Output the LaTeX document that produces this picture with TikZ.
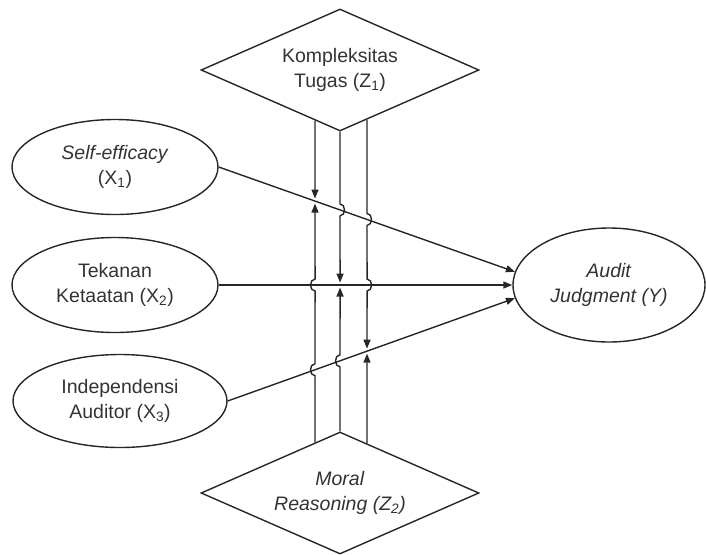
\documentclass[tikz,border=0pt]{standalone}
\usepackage{fontspec}
\setmainfont{Liberation Sans}
\usetikzlibrary{shapes.geometric,arrows.meta,calc}
\tikzset{
  var/.style={ellipse, draw=black!85, line width=1.4pt, minimum width=206pt, minimum height=95pt, inner sep=0pt, align=center},
  mod/.style={diamond, aspect=2.3, draw=black!85, line width=1.4pt, minimum width=278pt, minimum height=122pt, inner sep=0pt, align=center},
  connect/.style={-{Triangle[length=9pt,width=7pt]}, line width=1.4pt, draw=black!85},
  link/.style={connect, shorten >=2.5pt},
  hop/.style n args={3}{insert path={-- ($(#1)+(0,-6*#2)$) .. controls ($(#1)+(6*#3,-6*#2)$) and ($(#1)+(6*#3,6*#2)$) .. ($(#1)+(0,6*#2)$)}}
}

\begin{document}
\begin{tikzpicture}[x=1pt, y=-1pt, font=\fontsize{19.5}{25}\selectfont, text=black!80]
	\useasboundingbox (0,0) rectangle (706,554);

	\node[mod] (Z1) at (340,70) {Kompleksitas\\Tugas (Z\textsubscript{1})};
	\node[mod] (Z2) at (340,493) {\textit{Moral}\\\textit{Reasoning (Z\textsubscript{2})}};

	\node[var] (X1) at (115,167) {\textit{Self-efficacy}\\(X\textsubscript{1})};
	\node[var] (X2) at (115,285) {Tekanan\\Ketaatan (X\textsubscript{2})};
	\node[var, minimum width=214pt, minimum height=93pt] (X3) at (120,401) {Independensi\\Auditor (X\textsubscript{3})};
	\node[var, minimum width=192pt, minimum height=114pt] (Y) at (609,285) {\textit{Audit}\\\textit{Judgment (Y)}};

	\path (X1.east) edge [connect] (Y.172);
	\path (X2.east) edge [connect] (Y.west);
	\path (X3.east) edge [connect] (Y.188);

	% where the moderator lines meet the paths
	\coordinate (L1) at (intersection of X1.east--Y.172 and 315,0--315,10);
	\coordinate (L2) at (intersection of X2.east--Y.west and 315,0--315,10);
	\coordinate (L3) at (intersection of X3.east--Y.188 and 315,0--315,10);
	\coordinate (M1) at (intersection of X1.east--Y.172 and Z1.north--Z1.south);
	\coordinate (M2) at (intersection of X2.east--Y.west and Z1.north--Z1.south);
	\coordinate (M3) at (intersection of X3.east--Y.188 and Z1.north--Z1.south);
	\coordinate (R1) at (intersection of X1.east--Y.172 and 367,0--367,10);
	\coordinate (R2) at (intersection of X2.east--Y.west and 367,0--367,10);
	\coordinate (R3) at (intersection of X3.east--Y.188 and 367,0--367,10);

	\coordinate (zL1) at (intersection of Z1.west--Z1.south and 315,0--315,10);
	\coordinate (zR1) at (intersection of Z1.east--Z1.south and 367,0--367,10);
	\coordinate (zL2) at (intersection of Z2.west--Z2.north and 315,0--315,10);
	\coordinate (zR2) at (intersection of Z2.east--Z2.north and 367,0--367,10);

	\draw[link] (zL1) -- (L1);
	\draw[link] (zL2) [hop={L3}{-1}{-1}] [hop={L2}{-1}{-1}] -- (L1);
	\draw[link] (Z1.south) [hop={M1}{1}{1}] -- (M2);
	\draw[link] (Z2.north) [hop={M3}{-1}{-1}] -- (M2);
	\draw[link] (zR1) [hop={R1}{1}{1}] [hop={R2}{1}{1}] -- (R3);
	\draw[link] (zR2) -- (R3);
\end{tikzpicture}
\end{document}
